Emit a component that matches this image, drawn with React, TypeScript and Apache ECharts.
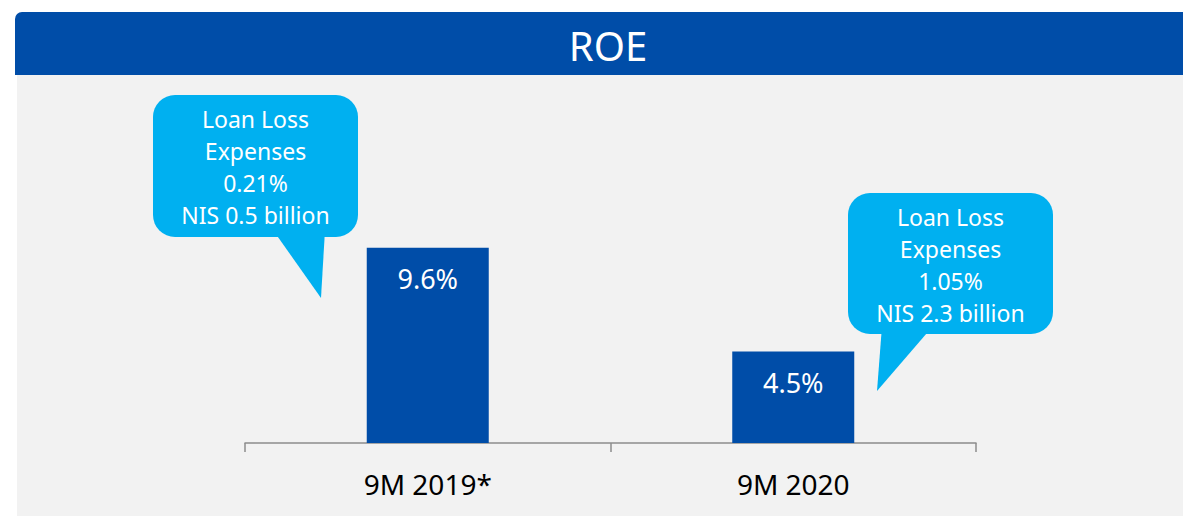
import React, { useEffect, useRef } from "react";
import * as echarts from "echarts";

const categories = ["9M 2019*", "9M 2020"];
const roeValues = [9.6, 4.5];
const titleText = "ROE";
const calloutTexts = [
  ["Loan Loss", "Expenses", "0.21%", "NIS 0.5 billion"],
  ["Loan Loss", "Expenses", "1.05%", "NIS 2.3 billion"],
];

const BLUE = "#004DA8";
const CYAN = "#00B0F0";
const FONT = "'Noto Sans', 'Open Sans', sans-serif";

export default function App() {
  const ref = useRef<HTMLDivElement>(null);
  useEffect(() => {
    if (!ref.current) return;
    const chart = echarts.init(ref.current, undefined, { renderer: "svg" });

    const callout = (
      x: number,
      y: number,
      w: number,
      h: number,
      tail: number[][],
      lines: string[]
    ) => ({
      type: "group",
      children: [
        { type: "polygon", shape: { points: tail }, style: { fill: CYAN } },
        { type: "rect", shape: { x, y, width: w, height: h, r: 22 }, style: { fill: CYAN } },
        {
          type: "text",
          x: x + w / 2,
          y: y + h / 2 + 1,
          style: {
            text: lines.join("\n"),
            fill: "#ffffff",
            font: `23px ${FONT}`,
            align: "center",
            verticalAlign: "middle",
            lineHeight: 32,
          },
        },
      ],
    });

    chart.setOption({
      animation: false,
      backgroundColor: "#ffffff",
      graphic: [
        {
          type: "rect",
          z: -10,
          shape: { x: 17, y: 75, width: 1170, height: 445 },
          style: { fill: "#F2F2F2" },
        },
        {
          type: "rect",
          z: -9,
          shape: { x: 15, y: 12, width: 1175, height: 63, r: [7, 0, 0, 0] },
          style: { fill: BLUE },
        },
        {
          type: "text",
          z: 10,
          x: 608,
          y: 45,
          style: {
            text: titleText,
            fill: "#ffffff",
            font: `40px ${FONT}`,
            align: "center",
            verticalAlign: "middle",
          },
        },
        callout(
          153,
          95,
          205,
          142,
          [
            [273, 230],
            [325, 230],
            [321, 298],
          ],
          calloutTexts[0]
        ),
        callout(
          848,
          193,
          205,
          141,
          [
            [882, 326],
            [933, 326],
            [877, 391],
          ],
          calloutTexts[1]
        ),
      ],
      grid: { left: 245, right: 207, top: 199, bottom: 73 },
      xAxis: {
        type: "category",
        data: categories,
        boundaryGap: true,
        axisLine: { lineStyle: { color: "#8C8C8C", width: 1.5 } },
        axisTick: { show: true, length: 9, lineStyle: { color: "#8C8C8C", width: 1.5 } },
        axisLabel: { color: "#000000", fontSize: 28, fontFamily: FONT, margin: 27 },
      },
      yAxis: {
        type: "value",
        min: 0,
        max: 12,
        show: false,
        splitLine: { show: false },
      },
      series: [
        {
          type: "bar",
          data: roeValues,
          barWidth: 122,
          itemStyle: { color: BLUE },
          label: {
            show: true,
            position: "insideTop",
            distance: 17,
            color: "#ffffff",
            fontSize: 27,
            fontFamily: FONT,
            formatter: (p: any) => `${p.value}%`,
          },
        },
      ],
    });
    return () => chart.dispose();
  }, []);
  return (
    <div
      ref={ref}
      style={{ position: "fixed", left: 0, top: 0, width: 1183, height: 516 }}
    />
  );
}
